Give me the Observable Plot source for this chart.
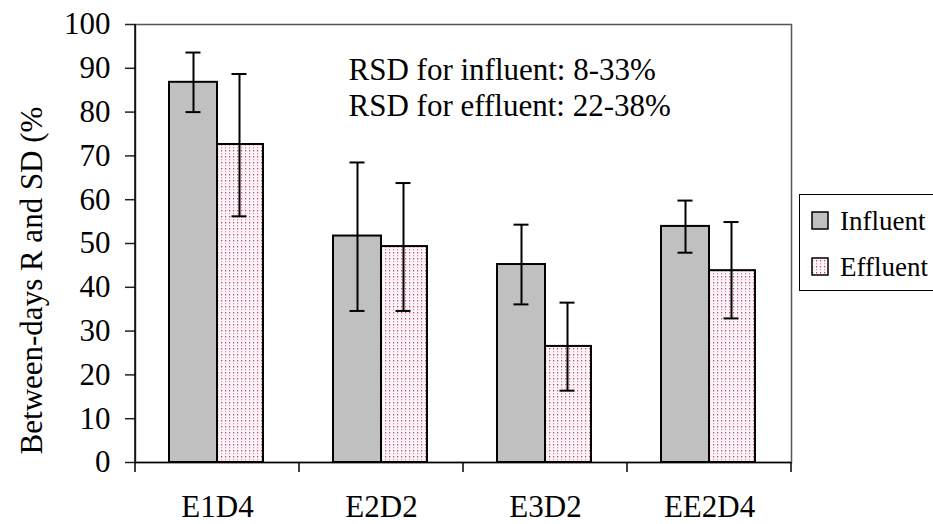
<!DOCTYPE html>
<html><head><meta charset="utf-8">
<script src="https://cdn.jsdelivr.net/npm/d3@7"></script>
<script src="https://cdn.jsdelivr.net/npm/@observablehq/plot@0.6"></script>
<style>
body{margin:0;background:#fff;}
#wrap{position:relative;width:933px;height:524px;overflow:hidden;font-family:'Liberation Serif','DejaVu Serif',serif;}
#wrap svg, #wrap text{font-family:'Liberation Serif','DejaVu Serif',serif !important;}
#legend{position:absolute;left:799px;top:194px;}
</style></head><body><div id="wrap"></div>
<script>
const categories = ["E1D4", "E2D2", "E3D2", "EE2D4"];
const series = ["Influent", "Effluent"];
const influent = [86.8, 51.7, 45.2, 53.9];
const influentLow = [80.0, 34.6, 36.1, 47.9];
const influentHigh = [93.6, 68.5, 54.3, 59.8];
const effluent = [72.6, 49.3, 26.5, 43.8];
const effluentLow = [56.2, 34.6, 16.4, 32.9];
const effluentHigh = [88.7, 63.8, 36.5, 54.9];
const yTicks = [0, 10, 20, 30, 40, 50, 60, 70, 80, 90, 100];
const annotation = ["RSD for influent: 8-33%", "RSD for effluent: 22-38%"];
const yLabel = "Between-days R and SD (%";

const inf = categories.map((c, i) => ({cat: c, v: influent[i], lo: influentLow[i], hi: influentHigh[i]}));
const eff = categories.map((c, i) => ({cat: c, v: effluent[i], lo: effluentLow[i], hi: effluentHigh[i]}));

const FONT = "'Liberation Serif','DejaVu Serif',serif";
const errStyle = {strokeWidth: 2, stroke: "black"};

const chart = Plot.plot({
  width: 933, height: 524,
  marginLeft: 135, marginRight: 142, marginTop: 24, marginBottom: 62,
  style: {fontFamily: FONT, fontSize: "31px", background: "white", color: "black", overflow: "visible"},
  x: {domain: categories, padding: 0, label: null},
  y: {domain: [0, 100], label: null},
  marks: [
    Plot.frame({stroke: "#555", strokeWidth: 1.5}),
    Plot.barY(inf, {x: "cat", y: "v", fill: "#c0c0c0", stroke: "black", strokeWidth: 2, insetLeft: 34, insetRight: 82}),
    Plot.barY(eff, {x: "cat", y: "v", fill: "url(#dots)", stroke: "black", strokeWidth: 2, insetLeft: 82, insetRight: 36}),
    Plot.ruleX(inf, {x: "cat", y1: "lo", y2: "hi", dx: -24, ...errStyle}),
    Plot.ruleX(eff, {x: "cat", y1: "lo", y2: "hi", dx: 22, ...errStyle}),
    Plot.tickY(inf, {x: "cat", y: "hi", dx: -24, insetLeft: 74.5, insetRight: 74.5, ...errStyle}),
    Plot.tickY(inf, {x: "cat", y: "lo", dx: -24, insetLeft: 74.5, insetRight: 74.5, ...errStyle}),
    Plot.tickY(eff, {x: "cat", y: "hi", dx: 22, insetLeft: 74.5, insetRight: 74.5, ...errStyle}),
    Plot.tickY(eff, {x: "cat", y: "lo", dx: 22, insetLeft: 74.5, insetRight: 74.5, ...errStyle}),
    Plot.ruleY([0], {stroke: "black", strokeWidth: 1.5}),
    Plot.axisY({ticks: yTicks, tickSize: 10, tickPadding: 15, tickFormat: d => String(d), strokeWidth: 1.5, stroke: "#222"}),
    Plot.axisX({tickSize: 0, tickPadding: 32}),
    Plot.text([annotation.join("\n")], {frameAnchor: "top-left", dx: 213, dy: 30, lineAnchor: "top", lineHeight: 1.16, textAnchor: "start"}),
    Plot.text([yLabel], {frameAnchor: "left", textAnchor: "middle", rotate: -90, dx: -103, dy: 37})
  ]
});

function addDots(sel, id) {
  const p = sel.append("pattern").attr("id", id).attr("patternUnits", "userSpaceOnUse")
    .attr("width", 4).attr("height", 6);
  p.append("rect").attr("width", 4).attr("height", 6).attr("fill", "#fdf6f9");
  p.append("rect").attr("x", 1).attr("y", 0).attr("width", 1.2).attr("height", 1.4).attr("fill", "#c0407a");
  p.append("rect").attr("x", 1).attr("y", 3).attr("width", 1.2).attr("height", 1.4).attr("fill", "#e898bc");
}

// pattern for effluent bars
const svg = d3.select(chart);
addDots(svg.insert("defs", ":first-child"), "dots");

// axis line and boundary ticks from the library's x scale
const xs = chart.scale("x");
const ys = chart.scale("y");
const y0 = ys.apply(0), y100 = ys.apply(100);
const bounds = categories.map(c => xs.apply(c)).concat([xs.apply(categories[categories.length - 1]) + xs.bandwidth]);
const g = svg.append("g").attr("stroke", "black").attr("stroke-width", 1.5);
g.append("line").attr("x1", bounds[0]).attr("x2", bounds[0]).attr("y1", y100).attr("y2", y0);
bounds.forEach(b => g.append("line").attr("x1", b).attr("x2", b).attr("y1", y0).attr("y2", y0 + 10));

document.getElementById("wrap").appendChild(chart);

// legend
const lg = d3.select("#wrap").append("svg").attr("id", "legend").attr("width", 140).attr("height", 100)
  .style("font-family", FONT);
lg.append("rect").attr("x", 0.5).attr("y", 0.5).attr("width", 150).attr("height", 96).attr("fill", "white").attr("stroke", "black").attr("stroke-width", 1);
addDots(lg.append("defs"), "dots2");
const fills = ["#c0c0c0", "url(#dots2)"];
series.forEach((s, i) => {
  const top = 18 + i * 46;
  lg.append("rect").attr("x", 13).attr("y", top).attr("width", 16).attr("height", 17)
    .attr("fill", fills[i]).attr("stroke", "black").attr("stroke-width", 1.5);
  lg.append("text").attr("x", 41).attr("y", top + 18).attr("font-size", 27).text(s);
});
</script></body></html>
